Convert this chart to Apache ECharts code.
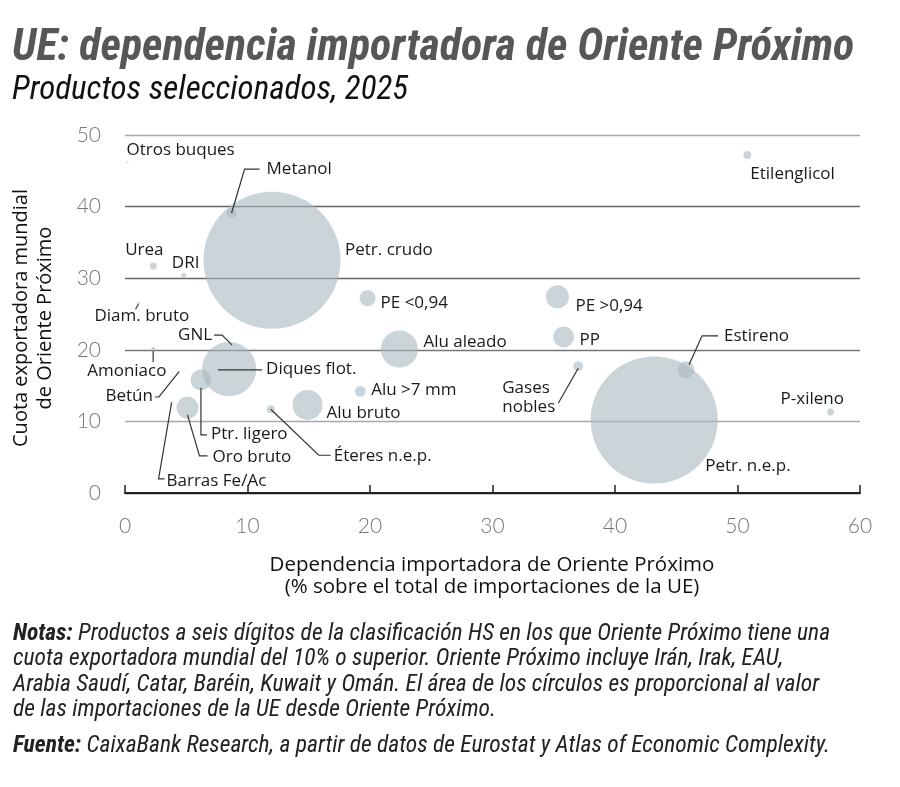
<!DOCTYPE html>
<html><head><meta charset="utf-8">
<script src="https://cdn.jsdelivr.net/npm/echarts@6/dist/echarts.min.js"></script>
<style>html,body{margin:0;padding:0;background:#fff}#c{width:900px;height:787px}</style>
</head><body><div id="c"></div>
<script>
// ---- data ----
const names = ["Otros buques","Metanol","Urea","DRI","Petr. crudo","Diam. bruto","GNL","Diques flot.","Amoniaco","Betún","Ptr. ligero","Oro bruto","Barras Fe/Ac","Éteres n.e.p.","Alu bruto","Alu >7 mm","PE <0,94","Alu aleado","PE >0,94","PP","Gases\nnobles","Etilenglicol","Estireno","P-xileno","Petr. n.e.p."];
// Dependencia importadora de Oriente Próximo (% importaciones UE)
const dependencia = [0.2,8.7,2.3,4.8,12.0,1.1,8.5,7.6,2.3,4.4,6.2,5.1,3.8,11.9,14.9,19.2,19.8,22.4,35.3,35.8,37.0,50.8,45.8,57.6,43.2];
// Cuota exportadora mundial de Oriente Próximo (%)
const cuota = [46.2,39.1,31.7,30.4,32.5,26.5,17.3,17.2,20.1,16.9,15.8,11.9,12.6,11.7,12.3,14.2,27.2,20.1,27.4,21.8,17.7,47.2,17.2,11.3,10.2];
// Importaciones UE desde Oriente Próximo (valor estimado, unidades relativas)
const importaciones = [6,160,78,40,30000,14,4700,8,26,10,700,770,14,100,1440,190,410,2200,850,700,160,100,460,78,25800];
const xTicks = [0,10,20,30,40,50,60];
const yTicks = [0,10,20,30,40,50];

// ---- label layout (pixel offsets from the bubble centre) ----
const LAYOUT = {
  "Otros buques":{d:[-1,-12]},
  "Metanol":{d:[35,-44],line:[[0,0],[13,-44],[28,-44]]},
  "Urea":{d:[-28,-16]},
  "DRI":{d:[-12,-12]},
  "Petr. crudo":{d:[73,-10]},
  "Diam. bruto":{d:[-44,13],line:[[0,1],[-3,6]]},
  "GNL":{d:[-17,-34],a:"right",line:[[3,-24],[-7,-34],[-15,-34]]},
  "Diques flot.":{d:[48,-1],line:[[0,0],[44,0]]},
  "Amoniaco":{d:[-66,22],line:[[0,2],[0,13]]},
  "Betún":{d:[-26,24],a:"right",line:[[0,0],[-20,25],[-24,25]]},
  "Ptr. ligero":{d:[10,54],line:[[0,8],[0,55],[6,55]]},
  "Oro bruto":{d:[25,49],line:[[0,7],[12,48],[20,48]]},
  "Barras Fe/Ac":{d:[-5,78],line:[[0,0],[-13,76],[-7,76]]},
  "Éteres n.e.p.":{d:[63,47],line:[[0,0],[48,46],[60,46]]},
  "Alu bruto":{d:[19,8]},
  "Alu >7 mm":{d:[11,-1]},
  "PE <0,94":{d:[13,5]},
  "Alu aleado":{d:[24,-7]},
  "PE >0,94":{d:[18,9]},
  "PP":{d:[16,3]},
  "Gases\nnobles":{d:[-76,31],line:[[0,2],[-20,37]]},
  "Etilenglicol":{d:[3,19]},
  "Estireno":{d:[38,-34],line:[[3,-5],[16,-34],[32,-34]]},
  "P-xileno":{d:[-50,-13]},
  "Petr. n.e.p.":{d:[51,46]}
};

const K = 0.791;
const NARROW = "'Roboto Condensed', 'Liberation Sans Narrow', 'Open Sans', sans-serif";

const pts = names.map((n,i)=>[dependencia[i],cuota[i],importaciones[i],n]);

const chart = echarts.init(document.getElementById('c'), null, {renderer:'canvas'});
chart.setOption({
  animation:false,
  grid:{left:125,right:40,top:135,bottom:294,containLabel:false},
  xAxis:{type:'value',min:0,max:60,interval:10,
    axisLine:{show:true,onZero:false,lineStyle:{color:'#222',width:2}},
    axisTick:{show:true,inside:true,length:8,lineStyle:{color:'#222',width:1.5}},
    axisLabel:{margin:23,color:'#777',fontSize:21,fontFamily:"Lato, 'Open Sans', sans-serif",fontWeight:300,
      formatter:v=>xTicks.includes(v)?String(v):''},
    splitLine:{show:false}},
  yAxis:{type:'value',min:0,max:50,interval:10,
    axisLine:{show:false},axisTick:{show:false},
    axisLabel:{margin:24,color:'#777',fontSize:21,fontFamily:"Lato, 'Open Sans', sans-serif",fontWeight:300,
      formatter:v=>yTicks.includes(v)?String(v):''},
    splitLine:{show:true,lineStyle:{color:['#222','#a8a8a8','#777','#666','#666','#a8a8a8'],width:1.3}}},
  series:[
    {type:'scatter',data:pts,
      symbolSize:v=>K*Math.sqrt(v[2]),
      itemStyle:{color:'#a9b9bf',opacity:0.6},
      z:2,silent:true},
    {type:'custom',data:pts,z:5,silent:true,
      renderItem:function(params,api){
        const c = api.coord([api.value(0),api.value(1)]);
        const n = names[params.dataIndex];
        const L = LAYOUT[n];
        const children = [];
        if (L.line){
          children.push({type:'polyline',shape:{points:L.line.map(p=>[c[0]+p[0],c[1]+p[1]])},
            style:{stroke:'#333',lineWidth:1.2,fill:null}});
        }
        children.push({type:'text',style:{text:n,x:c[0]+L.d[0],y:c[1]+L.d[1],
          align:L.a||'left',verticalAlign:'middle',fontSize:17,fontFamily:"'Open Sans', 'Noto Sans', sans-serif",
          fill:'#1a1a1a',lineHeight:19}});
        return {type:'group',children:children};
      }}
  ],
  graphic:[
    {type:'text',left:12,top:27,style:{text:'UE: dependencia importadora de Oriente Próximo',
      font:"italic bold 44px "+NARROW,fill:'#575757'}},
    {type:'text',left:12,top:74,style:{text:'Productos seleccionados, 2025',
      font:"italic 33px "+NARROW,fill:'#111'}},
    {type:'text',x:33,y:318,rotation:Math.PI/2,style:{text:'Cuota exportadora mundial\nde Oriente Próximo',
      font:"20px 'Open Sans', sans-serif",fill:'#111',textAlign:'center',textVerticalAlign:'middle',lineHeight:24}},
    {type:'text',x:492,y:576,style:{text:'Dependencia importadora de Oriente Próximo\n(% sobre el total de importaciones de la UE)',
      font:"20.5px 'Open Sans', sans-serif",fill:'#111',textAlign:'center',textVerticalAlign:'middle',lineHeight:22}},
    {type:'text',left:13,top:621,style:{
      text:'{b|Notas:} Productos a seis dígitos de la clasificación HS en los que Oriente Próximo tiene una\ncuota exportadora mundial del 10% o superior. Oriente Próximo incluye Irán, Irak, EAU,\nArabia Saudí, Catar, Baréin, Kuwait y Omán. El área de los círculos es proporcional al valor\nde las importaciones de la UE desde Oriente Próximo.',
      font:"italic 23.5px "+NARROW,fill:'#222',lineHeight:25.5,
      rich:{b:{font:"italic bold 23.5px "+NARROW,fill:'#222',lineHeight:25.5}}}},
    {type:'text',left:13,top:734,style:{
      text:'{b|Fuente:} CaixaBank Research, a partir de datos de Eurostat y Atlas of Economic Complexity.',
      font:"italic 23.5px "+NARROW,fill:'#222',lineHeight:25,
      rich:{b:{font:"italic bold 23.5px "+NARROW,fill:'#222',lineHeight:25}}}}
  ]
});
</script></body></html>
